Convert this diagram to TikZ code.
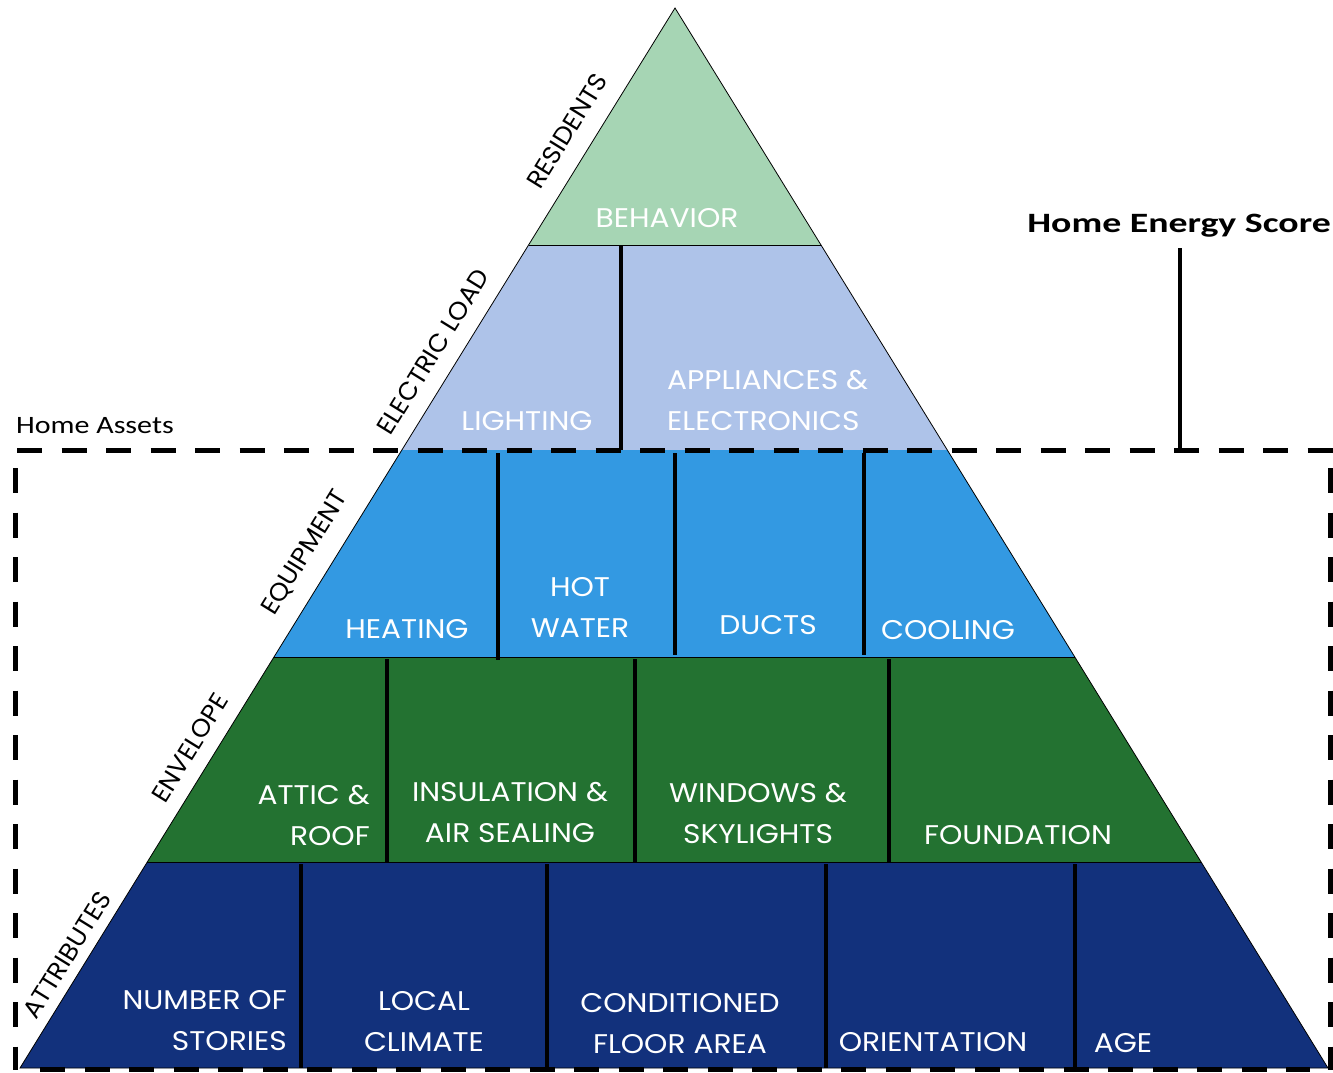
\documentclass[tikz,border=0pt]{standalone}
\usepackage{fontspec}
\setmainfont{Poppins}
\newfontfamily\wfont[FakeStretch=1.10]{Poppins}
\newfontfamily\sfont[FakeStretch=1.04]{Poppins}
\newfontfamily\calfont[FakeStretch=1.2]{Carlito}
\newfontfamily\calbfont[FakeStretch=1.35]{Carlito Bold}
\definecolor{cbeh}{HTML}{A6D5B4}
\definecolor{celec}{HTML}{AEC3E9}
\definecolor{cequip}{HTML}{3399E2}
\definecolor{cenv}{HTML}{237231}
\definecolor{cattr}{HTML}{12317C}
\tikzset{
  wlbl/.style={text=white, font=\wfont\fontsize{27}{41}\selectfont, inner sep=0pt, align=center},
  side/.style={text=black, font=\sfont\fontsize{25}{30}\selectfont, inner sep=0pt, rotate=58.3},
  divider/.style={line width=3.5pt, black},
  dashline/.style={line width=5pt, black, dash pattern=on 25pt off 19.5pt},
  edge/.style={line width=0.8pt, black}
}
\begin{document}
\begin{tikzpicture}[x=1pt,y=-1pt]
\useasboundingbox (0,0) rectangle (1333,1072);
% bands
\fill[cbeh] (675,8) -- (821.0,245) -- (528.6,245) -- cycle;
\fill[celec] (528.6,245) -- (821.0,245) -- (947.3,450) -- (401.9,450) -- cycle;
\fill[cequip] (401.9,450) -- (947.3,450) -- (1074.8,657) -- (274.0,657) -- cycle;
\fill[cenv] (274.0,657) -- (1074.8,657) -- (1201.1,862) -- (147.3,862) -- cycle;
\fill[cattr] (147.3,862) -- (1201.1,862) -- (1328,1068) -- (20,1068) -- cycle;
% outlines
\draw[edge] (20,1068) -- (675,8) -- (1328,1068) -- cycle;
\draw[edge] (528.6,245) -- (821.0,245);
\draw[edge] (274.0,657) -- (1074.8,657);
\draw[edge] (147.3,862) -- (1201.1,862);
% dividers
\draw[divider] (621,245) -- (621,450);
\draw[divider] (498,453) -- (498,660);
\draw[divider] (675,453) -- (675,655);
\draw[divider] (864,453) -- (864,655);
\draw[divider] (387,659) -- (387,862);
\draw[divider] (635,659) -- (635,862);
\draw[divider] (889,659) -- (889,862);
\draw[divider] (301,864) -- (301,1068);
\draw[divider] (547,864) -- (547,1068);
\draw[divider] (826,864) -- (826,1068);
\draw[divider] (1075,864) -- (1075,1068);
% dashed frame
\draw[dashline] (17,450) -- (1333,450);
\draw[dashline] (15,468) -- (15,1070);
\draw[dashline] (1330,468) -- (1330,1070);
\draw[dashline] (40,1069) -- (1310,1069);
% home energy score
\node[font=\calbfont\fontsize{28}{32}\selectfont, anchor=base east, inner sep=0pt] (hes) at (1331,232) {Home Energy Score};
\coordinate (hesb) at (1180,450);
\draw[divider] (1180,248) -- (hesb);
\node[font=\calfont\fontsize{25}{30}\selectfont, anchor=base west, inner sep=0pt] (ha) at (16,433) {Home Assets};
% side labels
\node[side] (res) at (567,131) {RESIDENTS};
\node[side] (el) at (433,352) {ELECTRIC LOAD};
\node[side] (eq) at (305,553) {EQUIPMENT};
\node[side] (en) at (190,748) {ENVELOPE};
\node[side] (at) at (67,955) {ATTRIBUTES};
% white labels
\node[wlbl] (beh) at (667,218) {BEHAVIOR};
\node[wlbl] (lig) at (527,421) {LIGHTING};
\node[wlbl, anchor=west, align=left] (app) at (667,400.5) {APPLIANCES \&\\ELECTRONICS};
\node[wlbl] (hea) at (407,629) {HEATING};
\node[wlbl] (hot) at (580,607.5) {HOT\\WATER};
\node[wlbl] (duc) at (768,625) {DUCTS};
\node[wlbl] (coo) at (948,630) {COOLING};
\node[wlbl, anchor=east, align=right] (att) at (370,815) {ATTIC \&\\ROOF};
\node[wlbl] (ins) at (510,812.5) {INSULATION \&\\AIR SEALING};
\node[wlbl] (win) at (758,813) {WINDOWS \&\\SKYLIGHTS};
\node[wlbl] (fou) at (1018,835) {FOUNDATION};
\node[wlbl, anchor=east, align=right] (num) at (287,1020.5) {NUMBER OF\\STORIES};
\node[wlbl] (loc) at (424,1021.5) {LOCAL\\CLIMATE};
\node[wlbl] (con) at (680,1024) {CONDITIONED\\FLOOR AREA};
\node[wlbl] (ori) at (933,1042) {ORIENTATION};
\node[wlbl] (age) at (1123,1043) {AGE};
\end{tikzpicture}
\end{document}
